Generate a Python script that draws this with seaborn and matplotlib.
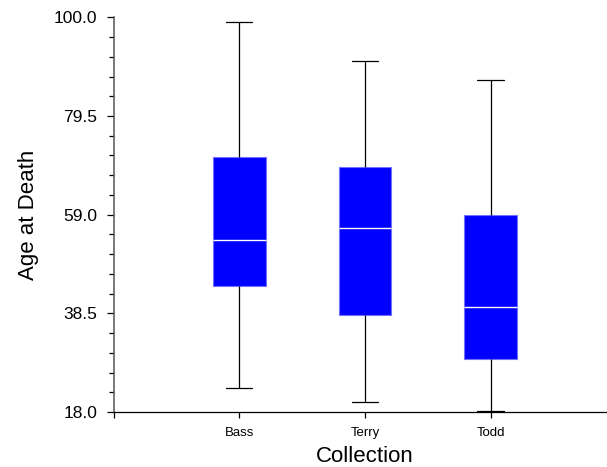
import numpy as np
import pandas as pd
import matplotlib
matplotlib.use("Agg")
import matplotlib.pyplot as plt
import seaborn as sns
from matplotlib.ticker import FixedLocator

# Five-number summaries per collection: minimum, lower quartile, median, upper quartile, maximum
collections = ["Bass", "Terry", "Todd"]
bass_ages = [23.0, 44.2, 53.8, 70.9, 99.1]
terry_ages = [20.0, 38.2, 56.3, 68.8, 91.0]
todd_ages = [18.3, 29.1, 39.8, 58.9, 87.0]

y_ticks = [18.0, 38.5, 59.0, 79.5, 100.0]

df = pd.DataFrame({
    "Collection": np.repeat(collections, 5),
    "Age at Death": bass_ages + terry_ages + todd_ages,
})

sns.set_theme(style="white")
plt.rcParams["font.family"] = ["Liberation Sans", "DejaVu Sans"]
plt.rcParams.update({
    "text.color": "black",
    "axes.labelcolor": "black",
    "xtick.color": "black",
    "ytick.color": "black",
})

fig = plt.figure(figsize=(6.07, 4.67), dpi=100)
ax = fig.add_axes([113.5 / 607, 55 / 467, 502.8 / 607, 394.7 / 467])

sns.boxplot(
    data=df, x="Collection", y="Age at Death", order=collections,
    whis=(0, 100), width=0.42, color="#0000FF", saturation=1,
    linewidth=0.8, fliersize=0, ax=ax,
    boxprops=dict(facecolor="#0000FF", edgecolor="#7070FF", linewidth=0.8),
    medianprops=dict(color="white", linewidth=1.0),
    whiskerprops=dict(color="black", linewidth=0.9),
    capprops=dict(color="black", linewidth=0.9),
)

ax.set_xlim(-1, 3)
ax.set_ylim(18, 100)
ax.set_xticks([-1, 0, 1, 2])
ax.set_xticklabels(["", "Bass", "Terry", "Todd"], fontsize=9.5)
ax.set_yticks(y_ticks)
ax.set_yticklabels([f"{v:.1f}" for v in y_ticks], fontsize=12.5)
ax.yaxis.set_minor_locator(FixedLocator(np.linspace(18, 100, 21)))

for side in ("top", "right"):
    ax.spines[side].set_visible(False)
ax.spines["left"].set_color("#555555")
ax.spines["left"].set_linewidth(1.1)
ax.spines["bottom"].set_color("black")
ax.spines["bottom"].set_linewidth(0.9)

ax.tick_params(axis="y", which="major", direction="out", length=5, width=0.9,
               color="black", pad=6.5, left=True)
ax.tick_params(axis="y", which="minor", direction="out", length=3.5, width=0.9,
               color="black", left=True)
ax.tick_params(axis="x", which="major", direction="out", length=4.5, width=0.9,
               color="black", pad=6.5, bottom=True)

ax.set_xlabel("Collection", fontsize=16, labelpad=5)
ax.set_ylabel("Age at Death", fontsize=16, labelpad=11)
ax.grid(False)

fig.savefig("out.png", dpi=100)
